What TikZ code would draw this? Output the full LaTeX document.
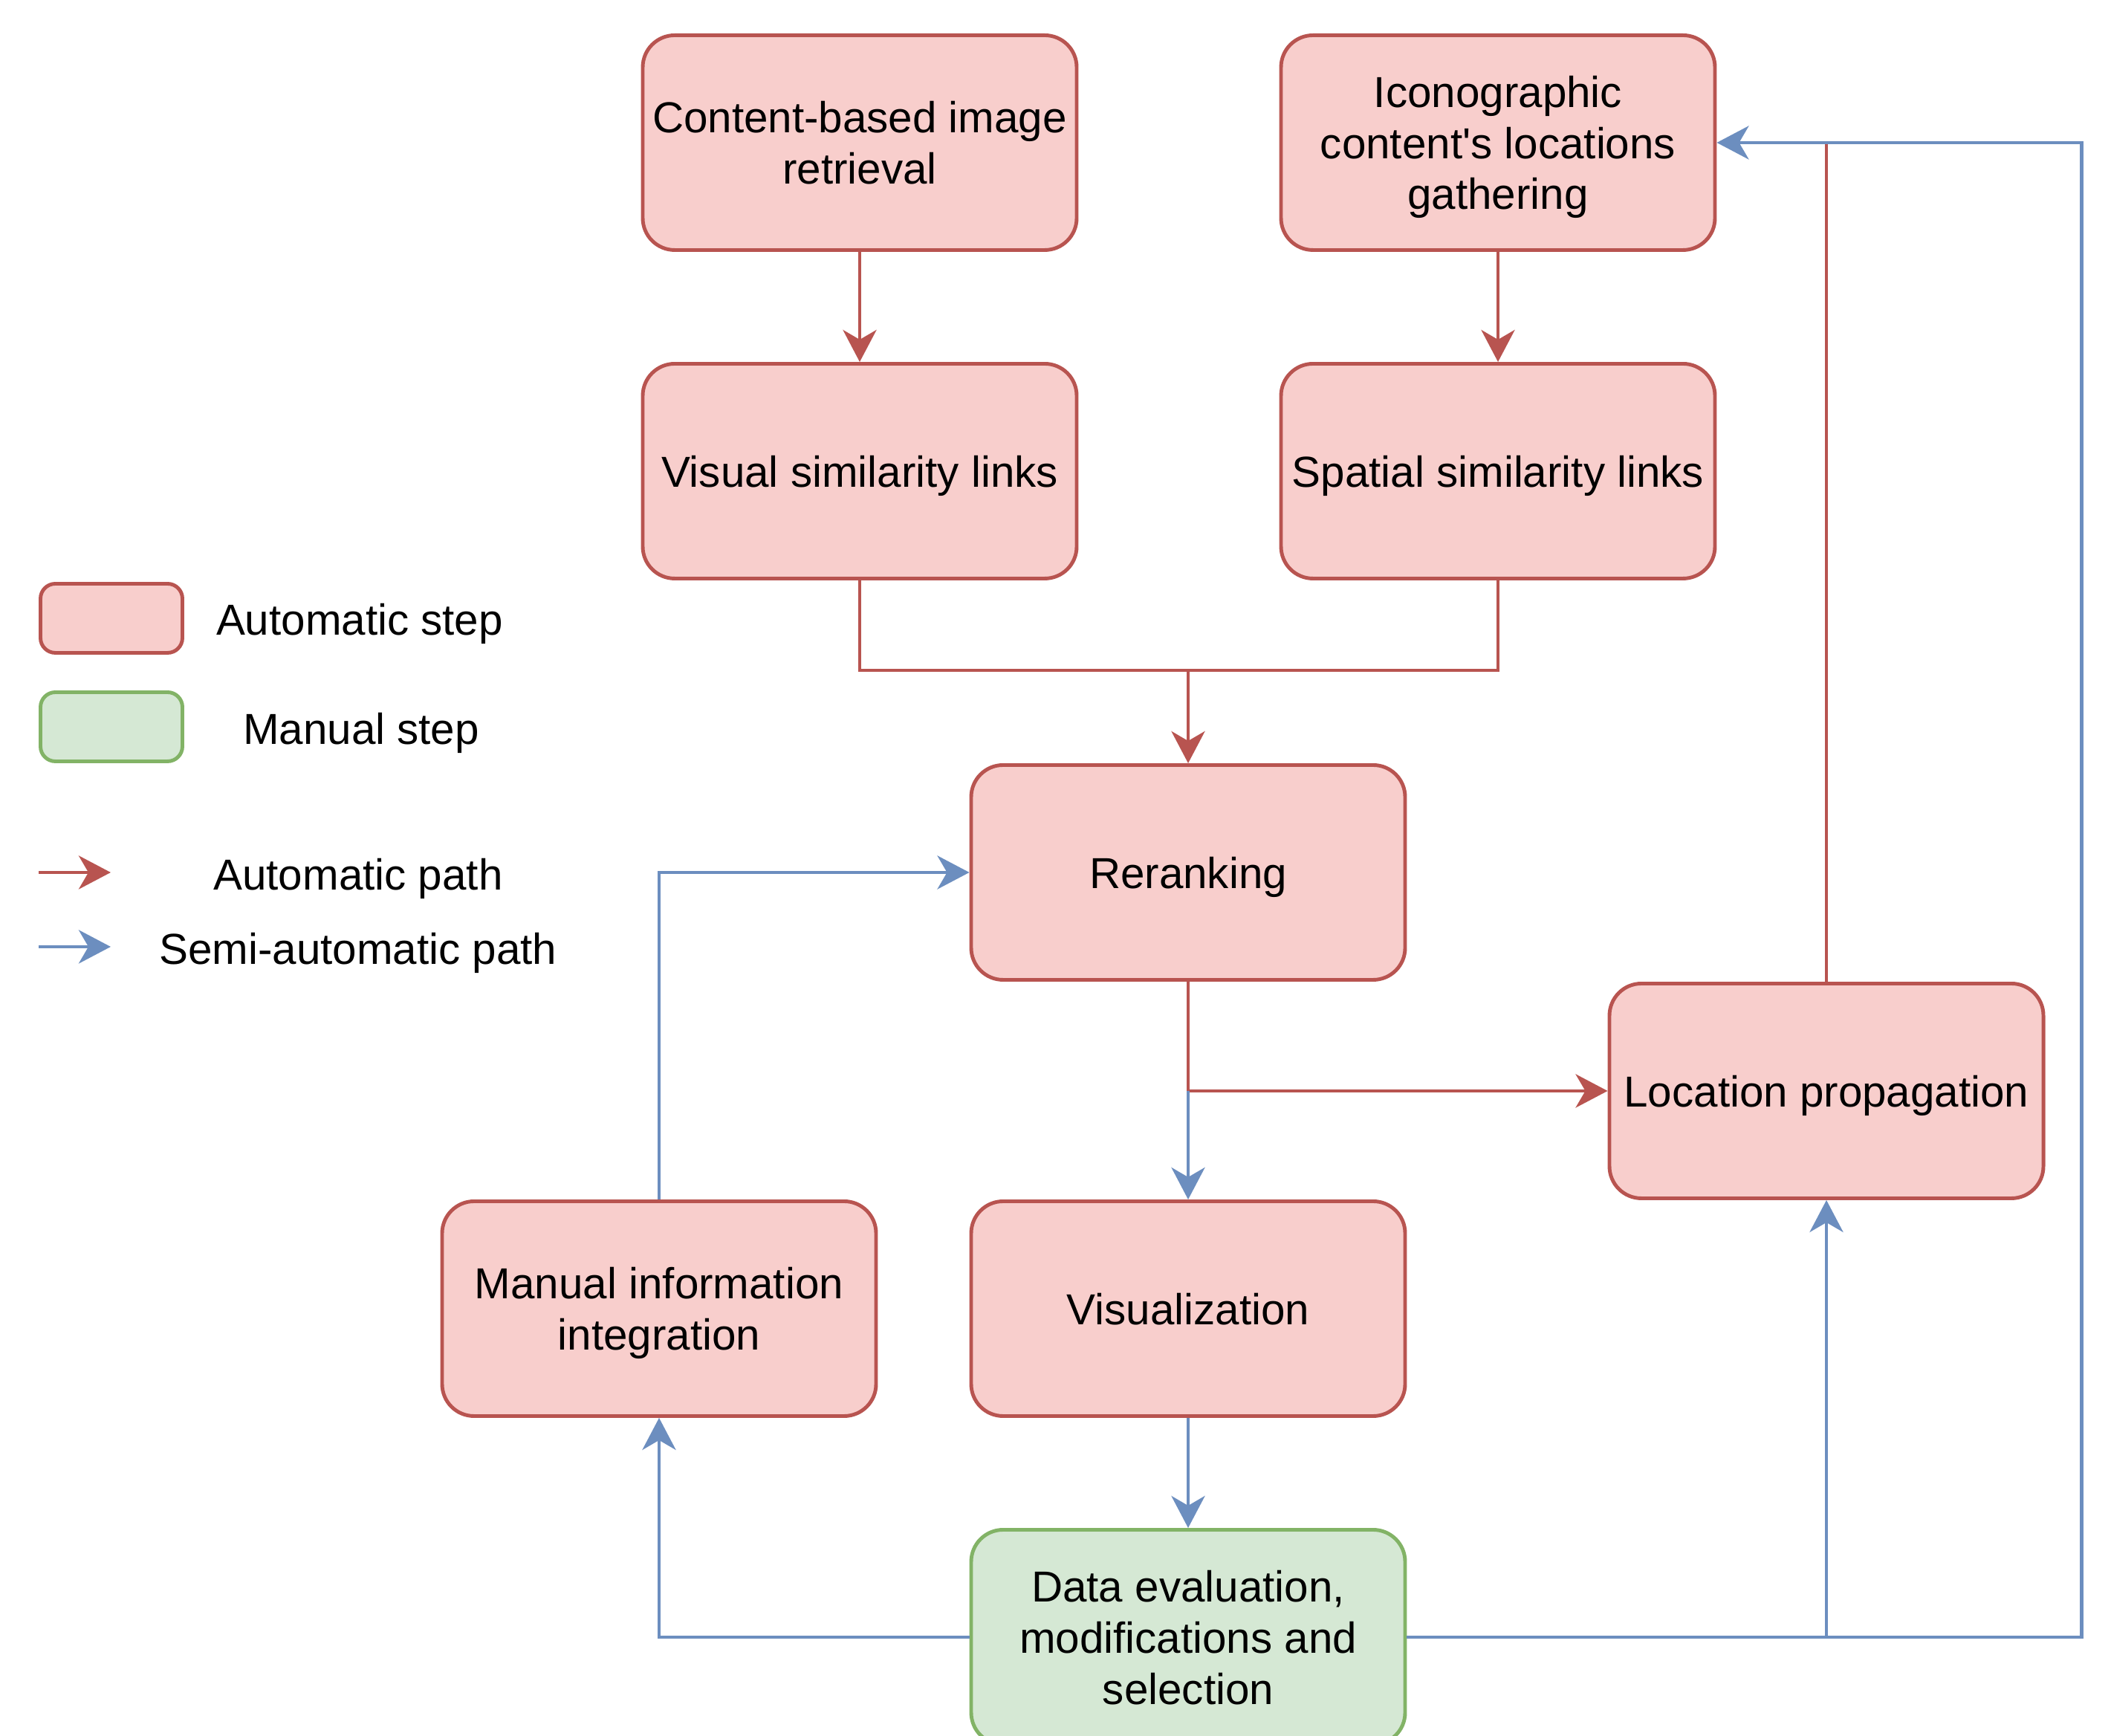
\documentclass[tikz,border=0pt]{standalone}
\usepackage{fontspec}
\setmainfont{Liberation Sans}
\usetikzlibrary{arrows.meta}

\definecolor{autored}{HTML}{B85450}
\definecolor{autofill}{HTML}{F8CECC}
\definecolor{manualgreen}{HTML}{82B366}
\definecolor{manualfill}{HTML}{D5E8D4}
\definecolor{semiblue}{HTML}{6C8EBF}

\begin{document}
\begin{tikzpicture}[
	every node/.style={font=\fontsize{16.6pt}{19.6pt}\selectfont, text depth=0pt},
	autostep/.style={draw=autored, fill=autofill, line width=1.4pt, rounded corners=0.43cm, minimum width=5.84cm, minimum height=2.89cm, align=center, inner sep=0pt},
	manualstep/.style={autostep, draw=manualgreen, fill=manualfill},
	legendbox/.style={autostep, rounded corners=0.2cm, minimum width=1.91cm, minimum height=0.93cm},
	autoline/.style={draw=autored, line width=1.4pt},
	autoarrow/.style={autoline, -{Stealth[length=4.3mm, width=4.5mm, inset=1.3mm]}},
	semiline/.style={draw=semiblue, line width=1.4pt},
	semiarrow/.style={semiline, -{Stealth[length=4.3mm, width=4.5mm, inset=1.3mm]}}
]
	\useasboundingbox (0,0) rectangle (28.41,23.36);

	\node[autostep] (cbir) at (11.57,21.44) {Content-based image\\retrieval};
	\node[autostep] (icono) at (20.16,21.44) {Iconographic\\content\textquotesingle s locations\\gathering};
	\node[autostep] (visual) at (11.57,17.02) {Visual similarity links};
	\node[autostep] (spatial) at (20.16,17.02) {Spatial similarity links};
	\node[autostep] (rerank) at (15.99,11.62) {Reranking};
	\node[autostep] (locprop) at (24.58,8.68) {Location propagation};
	\node[autostep] (manual) at (8.87,5.75) {Manual information\\integration};
	\node[autostep] (visu) at (15.99,5.75) {Visualization};
	\node[manualstep] (dataeval) at (15.99,1.33) {Data evaluation,\\modifications and\\selection};

	\node[legendbox] (autokey) at (1.50,15.04) {};
	\node[legendbox, draw=manualgreen, fill=manualfill] (manualkey) at (1.50,13.58) {};
	\node (autosteptext) at (4.84,15.03) {Automatic step};
	\node (manualsteptext) at (4.86,13.56) {Manual step};
	\coordinate (autopathstart) at (0.52,11.62);
	\coordinate (autopathend) at (1.49,11.62);
	\coordinate (semipathstart) at (0.52,10.62);
	\coordinate (semipathend) at (1.49,10.62);
	\draw[autoarrow] (autopathstart) -- (autopathend);
	\draw[semiarrow] (semipathstart) -- (semipathend);
	\node (autopathtext) at (4.82,11.60) {Automatic path};
	\node (semipathtext) at (4.82,10.60) {Semi-automatic path};

	\coordinate (join) at (15.99,14.34);
	\coordinate (split) at (rerank.south |- locprop.west);
	\coordinate (rightedge) at (28.01,21.44);

	\draw[autoarrow] (cbir) -- (visual);
	\draw[autoarrow] (icono) -- (spatial);
	\draw[autoline] (visual.south) |- (join);
	\draw[autoline] (spatial.south) |- (join);
	\draw[autoarrow] (join) -- (rerank.north);
	\draw[autoarrow] (rerank.south) |- (locprop.west);
	\draw[autoline] (locprop.north) -- (locprop.north |- icono.east);

	\draw[semiarrow] (split) -- (visu.north);
	\draw[semiarrow] (visu) -- (dataeval);
	\draw[semiarrow] (dataeval.west) -| (manual.south);
	\draw[semiarrow] (manual.north) |- (rerank.west);
	\draw[semiarrow] (dataeval.east) -| (locprop.south);
	\draw[semiarrow] (dataeval.east) -| (rightedge) -- (icono.east);
\end{tikzpicture}
\end{document}
